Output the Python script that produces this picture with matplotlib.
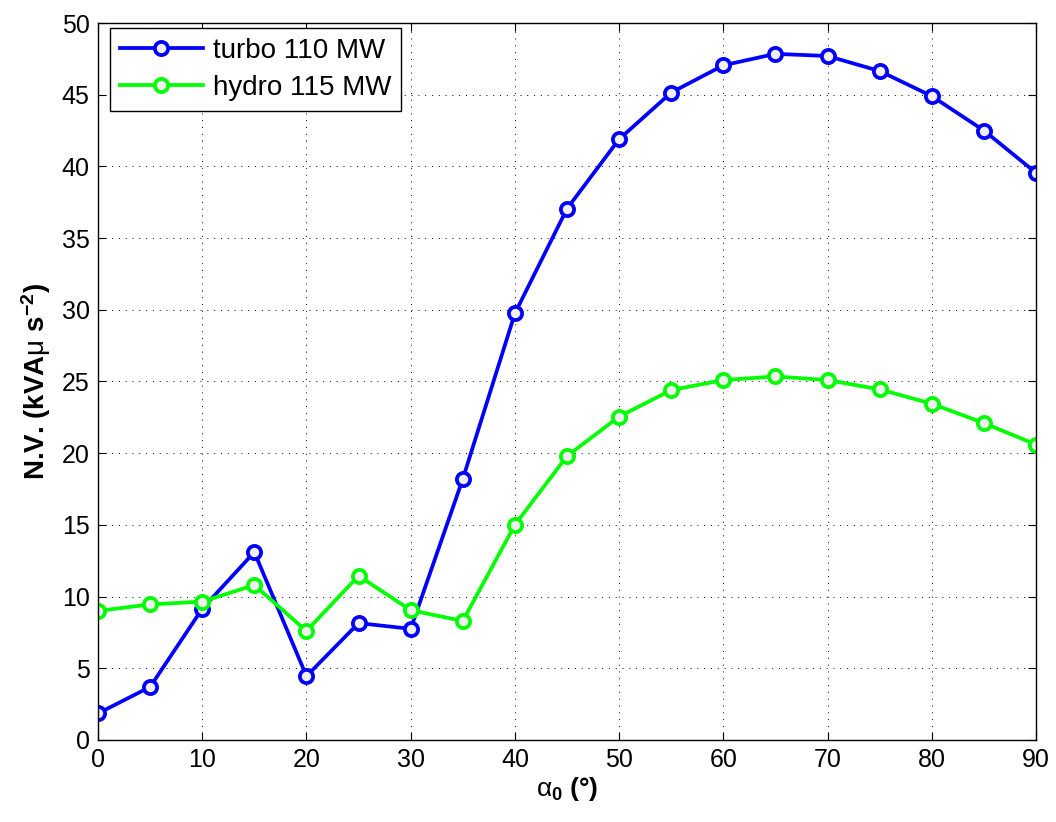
import matplotlib
matplotlib.use('Agg')
import matplotlib.pyplot as plt

# Angle alpha_0 in degrees
alpha = [0, 5, 10, 15, 20, 25, 30, 35, 40, 45, 50, 55, 60, 65, 70, 75, 80, 85, 90]

# N.V. values
turbo = [1.85, 3.7, 9.15, 13.1, 4.45, 8.15, 7.75, 18.2, 29.75, 37.05, 41.9, 45.15,
         47.05, 47.85, 47.7, 46.65, 44.9, 42.5, 39.55]
hydro = [9.0, 9.45, 9.65, 10.8, 7.6, 11.45, 9.05, 8.3, 15.0, 19.8, 22.55, 24.4,
         25.1, 25.35, 25.1, 24.45, 23.45, 22.1, 20.6]

xticks = list(range(0, 91, 10))
yticks = list(range(0, 51, 5))


def main():
    plt.rcParams['font.family'] = ['Liberation Sans', 'DejaVu Sans']
    plt.rcParams['mathtext.fontset'] = 'custom'
    plt.rcParams['mathtext.rm'] = 'Liberation Sans'
    plt.rcParams['mathtext.it'] = 'Liberation Sans'
    plt.rcParams['mathtext.bf'] = 'Liberation Sans:bold'

    fig = plt.figure(figsize=(10.56, 8.22), dpi=100)
    ax = fig.add_axes([0.0928, 0.0998, 0.8883, 0.8722])

    ax.plot(alpha, turbo, color='#0000ff', lw=2.7, marker='o', ms=9.5,
            mfc='#f0f0f0', mec='#0000ff', mew=2.7, label='turbo 110 MW')
    ax.plot(alpha, hydro, color='#00ff00', lw=2.7, marker='o', ms=9.5,
            mfc='#f0f0f0', mec='#00ff00', mew=2.7, label='hydro 115 MW')

    ax.set_xlim(0, 90)
    ax.set_ylim(0, 50)
    ax.set_xticks(xticks)
    ax.set_yticks(yticks)
    ax.tick_params(direction='in', labelsize=18, length=6, top=True, right=True, pad=6)
    ax.grid(True, color='black', linestyle=(0, (1, 6)), linewidth=0.7)
    for s in ax.spines.values():
        s.set_linewidth(1.0)

    ax.set_xlabel(r'$\alpha_{\mathbf{0}}$ (°)', fontsize=19, fontweight='bold', labelpad=2)
    ax.set_ylabel(r'N.V. (kVA$\mu$ s$^{\mathbf{-2}}$)', fontsize=20,
                  fontweight='bold', labelpad=6)

    leg = ax.legend(loc='upper left', fontsize=20, fancybox=False, framealpha=1,
                    edgecolor='black', borderpad=0.35, handlelength=3.0,
                    handletextpad=0.35, labelspacing=0.4, borderaxespad=0,
                    bbox_to_anchor=(0.0128, 0.993))
    leg.get_frame().set_linewidth(1.0)

    fig.savefig('out.png', dpi=100)


if __name__ == '__main__':
    main()
